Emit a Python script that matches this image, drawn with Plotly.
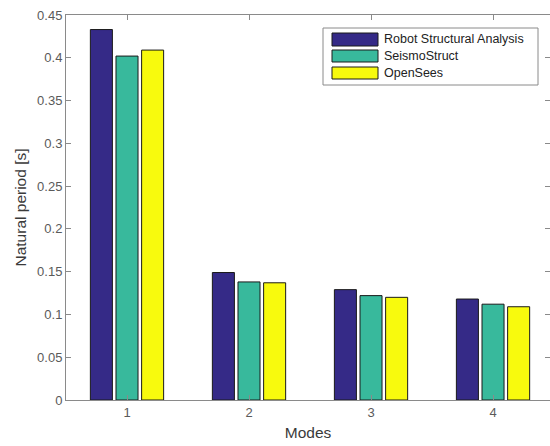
import plotly.graph_objects as go

modes = [1, 2, 3, 4]
series_names = ["Robot Structural Analysis", "SeismoStruct", "OpenSees"]
robot = [0.433, 0.149, 0.129, 0.118]
seismo = [0.402, 0.138, 0.122, 0.112]
opensees = [0.409, 0.137, 0.120, 0.109]
colors = ["#352A87", "#38B99C", "#F8FA0D"]
y_ticks = [0, 0.05, 0.1, 0.15, 0.2, 0.25, 0.3, 0.35, 0.4, 0.45]
y_tick_labels = ["0", "0.05", "0.1", "0.15", "0.2", "0.25", "0.3", "0.35", "0.4", "0.45"]

W, H = 550, 446
ML, MR, MT, MB = 66, 0, 15, 46
PW, PH = W - ML - MR, H - MT - MB

def px(x):
    return (x - ML) / PW

def py(y):
    return (H - MB - y) / PH

fig = go.Figure()
for name, vals, c in zip(series_names, [robot, seismo, opensees], colors):
    fig.add_trace(go.Bar(x=modes, y=vals, name=name, marker=dict(color=c, line=dict(color="#1a1a1a", width=1)),
                         showlegend=False))

axis_common = dict(showline=True, linecolor="#8a8a8a", linewidth=1, ticks="inside", ticklen=5,
                   tickcolor="#8a8a8a", mirror="ticks", showgrid=False, zeroline=False,
                   tickfont=dict(family="Liberation Sans, Arial", size=13, color="#5a5a5a"))

title_font = dict(family="Liberation Sans, Arial", size=15.5, color="#3a3a3a")

fig.update_layout(
    width=W, height=H, margin=dict(l=ML, r=MR, t=MT, b=MB),
    paper_bgcolor="white", plot_bgcolor="white",
    barmode="group", bargap=0.37, bargroupgap=0.14,
    xaxis=dict(range=[0.5, 4.467], tickvals=modes, ticktext=[str(m) for m in modes],
               title=dict(text="Modes", font=title_font, standoff=8),
               **axis_common),
    yaxis=dict(range=[0, 0.45], tickvals=y_ticks, ticktext=y_tick_labels,
               title=dict(text="Natural period [s]", font=title_font, standoff=6),
               **axis_common),
    font=dict(family="Liberation Sans, Arial"),
)

# custom MATLAB-style legend
shapes = [dict(type="rect", xref="paper", yref="paper", x0=px(323), x1=px(538), y0=py(85), y1=py(28),
               line=dict(color="#8a8a8a", width=1), fillcolor="white", layer="above")]
rows = [(33, 46), (50, 62), (67, 79)]
annotations = []
for (y0, y1), name, c in zip(rows, series_names, colors):
    shapes.append(dict(type="rect", xref="paper", yref="paper", x0=px(332), x1=px(378), y0=py(y1), y1=py(y0),
                       line=dict(color="#1a1a1a", width=1), fillcolor=c, layer="above"))
    annotations.append(dict(xref="paper", yref="paper", x=px(382), y=py((y0 + y1) / 2), text=name,
                            showarrow=False, xanchor="left", yanchor="middle",
                            font=dict(family="Liberation Sans, Arial", size=12.5, color="#222222")))
fig.update_layout(shapes=shapes, annotations=annotations)

fig.write_html("out.html")
